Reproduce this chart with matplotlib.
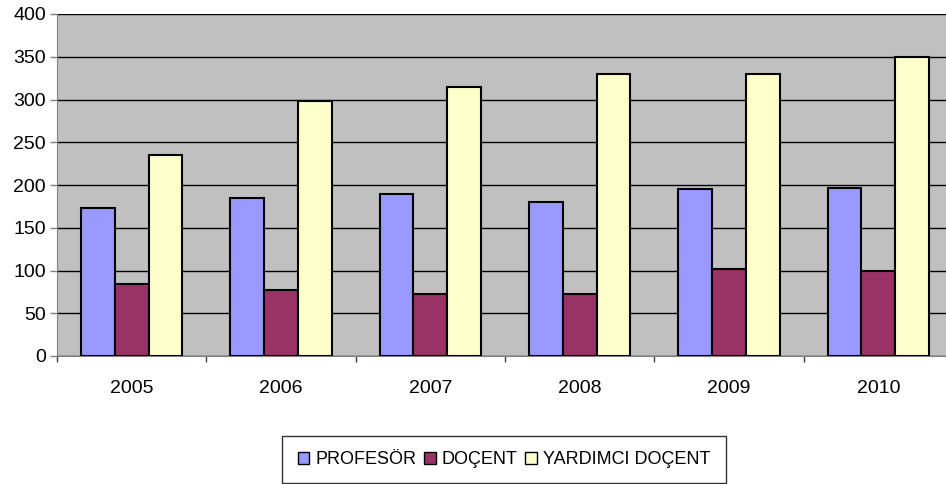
import numpy as np
import matplotlib
matplotlib.use("Agg")
import matplotlib.pyplot as plt
from matplotlib.patches import Patch

years = ["2005", "2006", "2007", "2008", "2009", "2010"]
profesor = [173, 185, 190, 180, 195, 197]
docent = [84, 77, 72, 72, 102, 100]
yrd_docent = [235, 298, 315, 330, 330, 350]
series_names = ["PROFESÖR", "DOÇENT", "YARDIMCI DOÇENT"]
colors = ["#9999FF", "#993366", "#FFFFCC"]

plt.rcParams['font.family'] = ['Liberation Sans', 'DejaVu Sans']

fig = plt.figure(figsize=(9.46, 4.84), dpi=100)
# plot area runs slightly past the right edge of the image, as in the original
ax = fig.add_axes([57/946, 1 - 356/484, 896/946, 342/484])
ax.set_facecolor("#C0C0C0")

x = np.arange(len(years))
w = 0.226
for i, vals in enumerate([profesor, docent, yrd_docent]):
    ax.bar(x + (i - 1) * w, vals, w, color=colors[i], edgecolor="black",
           linewidth=1.5, zorder=3)

ax.set_xlim(-0.5, len(years) - 0.5)
ax.set_ylim(0, 400)
ax.set_yticks(range(0, 401, 50))
ax.yaxis.grid(True, color="black", linewidth=1, zorder=1)
ax.set_axisbelow(True)

# category ticks: marks at boundaries, labels at centers
ax.set_xticks(np.arange(-0.5, len(years)), minor=False)
ax.set_xticklabels([""] * (len(years) + 1))
ax.set_xticks(x, minor=True)
ax.set_xticklabels(years, minor=True)
ax.tick_params(axis="x", which="major", direction="out", length=4, width=1, color="#404040")
ax.tick_params(axis="x", which="minor", length=0, pad=17, labelsize=14)
ax.tick_params(axis="y", direction="out", length=5, width=1, color="#808080", labelsize=14, pad=3)

for s in ["top", "right"]:
    ax.spines[s].set_visible(False)
ax.spines["left"].set_color("#808080")
ax.spines["bottom"].set_color("#808080")

handles = [Patch(facecolor=c, edgecolor="black", linewidth=1) for c in colors]
leg = fig.legend(handles, series_names, loc="center", bbox_to_anchor=(504/946, 1 - 459.5/484),
                 ncol=3, frameon=True, fancybox=False, edgecolor="black",
                 fontsize=13, handlelength=0.65, handleheight=0.65, handletextpad=0.35,
                 columnspacing=0.4, borderpad=0.85)
leg.get_frame().set_linewidth(1)

fig.savefig("out.png", dpi=100)
